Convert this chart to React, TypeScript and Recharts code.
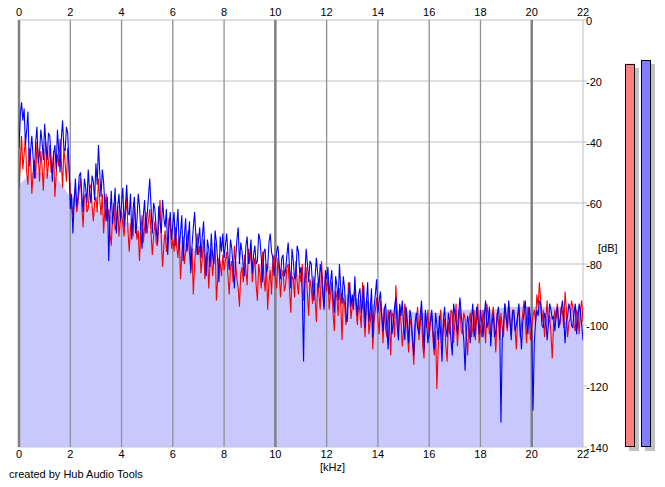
import React from 'react';
import {
  ComposedChart,
  Line,
  Area,
  XAxis,
  YAxis,
  CartesianGrid,
  ReferenceLine,
  BarChart,
  Bar,
  Cell,
} from 'recharts';

// Frequency bins (kHz)
const FREQ_KHZ = [
  0, 0.05, 0.1, 0.15, 0.2, 0.25, 0.3, 0.35, 0.4, 0.45, 0.5, 0.55, 0.6, 0.65, 0.7, 0.75, 0.8, 0.85, 0.9, 0.95,
  1, 1.05, 1.1, 1.15, 1.2, 1.25, 1.3, 1.35, 1.4, 1.45, 1.5, 1.55, 1.6, 1.65, 1.7, 1.75, 1.8, 1.85, 1.9, 1.95,
  2, 2.05, 2.1, 2.15, 2.2, 2.25, 2.3, 2.35, 2.4, 2.45, 2.5, 2.55, 2.6, 2.65, 2.7, 2.75, 2.8, 2.85, 2.9, 2.95,
  3, 3.05, 3.1, 3.15, 3.2, 3.25, 3.3, 3.35, 3.4, 3.45, 3.5, 3.55, 3.6, 3.65, 3.7, 3.75, 3.8, 3.85, 3.9, 3.95,
  4, 4.05, 4.1, 4.15, 4.2, 4.25, 4.3, 4.35, 4.4, 4.45, 4.5, 4.55, 4.6, 4.65, 4.7, 4.75, 4.8, 4.85, 4.9, 4.95,
  5, 5.05, 5.1, 5.15, 5.2, 5.25, 5.3, 5.35, 5.4, 5.45, 5.5, 5.55, 5.6, 5.65, 5.7, 5.75, 5.8, 5.85, 5.9, 5.95,
  6, 6.05, 6.1, 6.15, 6.2, 6.25, 6.3, 6.35, 6.4, 6.45, 6.5, 6.55, 6.6, 6.65, 6.7, 6.75, 6.8, 6.85, 6.9, 6.95,
  7, 7.05, 7.1, 7.15, 7.2, 7.25, 7.3, 7.35, 7.4, 7.45, 7.5, 7.55, 7.6, 7.65, 7.7, 7.75, 7.8, 7.85, 7.9, 7.95,
  8, 8.05, 8.1, 8.15, 8.2, 8.25, 8.3, 8.35, 8.4, 8.45, 8.5, 8.55, 8.6, 8.65, 8.7, 8.75, 8.8, 8.85, 8.9, 8.95,
  9, 9.05, 9.1, 9.15, 9.2, 9.25, 9.3, 9.35, 9.4, 9.45, 9.5, 9.55, 9.6, 9.65, 9.7, 9.75, 9.8, 9.85, 9.9, 9.95,
  10, 10.05, 10.1, 10.15, 10.2, 10.25, 10.3, 10.35, 10.4, 10.45, 10.5, 10.55, 10.6, 10.65, 10.7, 10.75, 10.8, 10.85, 10.9, 10.95,
  11, 11.05, 11.1, 11.15, 11.2, 11.25, 11.3, 11.35, 11.4, 11.45, 11.5, 11.55, 11.6, 11.65, 11.7, 11.75, 11.8, 11.85, 11.9, 11.95,
  12, 12.05, 12.1, 12.15, 12.2, 12.25, 12.3, 12.35, 12.4, 12.45, 12.5, 12.55, 12.6, 12.65, 12.7, 12.75, 12.8, 12.85, 12.9, 12.95,
  13, 13.05, 13.1, 13.15, 13.2, 13.25, 13.3, 13.35, 13.4, 13.45, 13.5, 13.55, 13.6, 13.65, 13.7, 13.75, 13.8, 13.85, 13.9, 13.95,
  14, 14.05, 14.1, 14.15, 14.2, 14.25, 14.3, 14.35, 14.4, 14.45, 14.5, 14.55, 14.6, 14.65, 14.7, 14.75, 14.8, 14.85, 14.9, 14.95,
  15, 15.05, 15.1, 15.15, 15.2, 15.25, 15.3, 15.35, 15.4, 15.45, 15.5, 15.55, 15.6, 15.65, 15.7, 15.75, 15.8, 15.85, 15.9, 15.95,
  16, 16.05, 16.1, 16.15, 16.2, 16.25, 16.3, 16.35, 16.4, 16.45, 16.5, 16.55, 16.6, 16.65, 16.7, 16.75, 16.8, 16.85, 16.9, 16.95,
  17, 17.05, 17.1, 17.15, 17.2, 17.25, 17.3, 17.35, 17.4, 17.45, 17.5, 17.55, 17.6, 17.65, 17.7, 17.75, 17.8, 17.85, 17.9, 17.95,
  18, 18.05, 18.1, 18.15, 18.2, 18.25, 18.3, 18.35, 18.4, 18.45, 18.5, 18.55, 18.6, 18.65, 18.7, 18.75, 18.8, 18.85, 18.9, 18.95,
  19, 19.05, 19.1, 19.15, 19.2, 19.25, 19.3, 19.35, 19.4, 19.45, 19.5, 19.55, 19.6, 19.65, 19.7, 19.75, 19.8, 19.85, 19.9, 19.95,
  20, 20.05, 20.1, 20.15, 20.2, 20.25, 20.3, 20.35, 20.4, 20.45, 20.5, 20.55, 20.6, 20.65, 20.7, 20.75, 20.8, 20.85, 20.9, 20.95,
  21, 21.05, 21.1, 21.15, 21.2, 21.25, 21.3, 21.35, 21.4, 21.45, 21.5, 21.55, 21.6, 21.65, 21.7, 21.75, 21.8, 21.85, 21.9, 21.95,
  22,
];

// Left channel (red) level in dB
const LEFT_DB = [
  -55, -47, -38, -49, -44, -39, -50, -54, -42, -45, -57, -50, -46, -52, -40, -44, -53, -43, -48, -56,
  -45, -40, -52, -47, -41, -50, -49, -43, -58, -51, -44, -48, -39, -46, -55, -42, -47, -53, -42, -48,
  -57, -61, -64, -58, -55, -63, -60, -56, -52, -61, -68, -58, -57, -63, -62, -55, -54, -61, -66, -60,
  -58, -63, -52, -59, -64, -57, -70, -62, -57, -66, -62, -70, -74, -64, -60, -69, -67, -61, -71, -66,
  -63, -67, -71, -64, -58, -69, -76, -68, -65, -71, -60, -66, -72, -69, -79, -70, -64, -73, -68, -63,
  -70, -66, -62, -70, -77, -71, -66, -73, -74, -67, -59, -72, -81, -74, -69, -76, -73, -65, -67, -75,
  -72, -76, -68, -74, -78, -71, -85, -77, -71, -80, -76, -73, -69, -77, -82, -75, -90, -80, -74, -70,
  -77, -74, -83, -78, -72, -85, -80, -76, -88, -80, -75, -84, -79, -73, -92, -85, -78, -80, -84, -77,
  -82, -79, -76, -84, -90, -81, -79, -86, -74, -80, -85, -88, -94, -83, -81, -86, -77, -82, -87, -75,
  -80, -75, -86, -81, -78, -87, -92, -80, -83, -88, -76, -84, -89, -80, -95, -86, -82, -90, -79, -77,
  -84, -88, -78, -83, -91, -84, -82, -89, -87, -81, -80, -88, -96, -84, -85, -91, -79, -86, -90, -82,
  -86, -80, -92, -87, -81, -90, -97, -85, -88, -93, -84, -91, -99, -86, -90, -95, -79, -87, -94, -84,
  -89, -84, -95, -90, -86, -96, -102, -89, -91, -97, -88, -93, -105, -91, -93, -100, -97, -86, -90, -98,
  -94, -91, -88, -95, -100, -92, -96, -101, -86, -97, -104, -93, -92, -103, -99, -94, -108, -99, -95, -91,
  -98, -103, -92, -97, -106, -94, -101, -104, -95, -100, -110, -96, -97, -104, -87, -95, -103, -94, -99, -107,
  -102, -93, -96, -103, -109, -98, -100, -106, -113, -101, -98, -94, -105, -100, -95, -107, -111, -97, -101, -95,
  -104, -99, -97, -105, -110, -102, -121, -108, -100, -95, -106, -101, -98, -107, -112, -99, -103, -95, -96, -106,
  -99, -93, -107, -100, -94, -102, -103, -96, -98, -104, -110, -99, -96, -104, -101, -95, -105, -98, -93, -106,
  -100, -104, -95, -99, -106, -93, -97, -103, -102, -97, -94, -101, -109, -96, -99, -105, -96, -101, -104, -93,
  -98, -102, -93, -99, -103, -95, -96, -101, -108, -97, -95, -104, -100, -96, -92, -99, -106, -94, -97, -105,
  -101, -97, -95, -99, -90, -94, -86, -92, -99, -95, -104, -98, -92, -100, -97, -103, -111, -100, -95, -98,
  -93, -98, -100, -94, -96, -101, -89, -95, -104, -99, -98, -92, -94, -100, -102, -95, -97, -103, -95, -92,
  -99,
];

// Right channel (blue) level in dB
const RIGHT_DB = [
  -42, -31, -27, -33, -29, -41, -36, -30, -48, -43, -38, -45, -52, -40, -35, -47, -44, -36, -40, -46,
  -34, -41, -46, -37, -38, -45, -53, -44, -41, -49, -36, -43, -50, -39, -33, -42, -43, -35, -37, -48,
  -62, -57, -70, -60, -52, -61, -58, -51, -50, -57, -63, -52, -55, -60, -49, -56, -60, -51, -53, -59,
  -47, -54, -41, -50, -58, -49, -53, -61, -66, -58, -79, -64, -56, -67, -62, -55, -70, -61, -57, -66,
  -60, -55, -68, -61, -54, -63, -64, -57, -72, -62, -58, -70, -66, -57, -61, -69, -75, -64, -59, -70,
  -64, -58, -52, -61, -70, -60, -62, -68, -73, -61, -66, -70, -59, -65, -68, -62, -77, -68, -63, -72,
  -67, -63, -74, -68, -62, -75, -70, -64, -79, -71, -65, -76, -72, -66, -83, -74, -68, -63, -71, -77,
  -72, -68, -78, -71, -66, -76, -84, -72, -75, -81, -70, -77, -80, -69, -73, -79, -86, -71, -76, -70,
  -78, -74, -70, -77, -82, -72, -75, -81, -88, -79, -72, -68, -80, -73, -76, -81, -84, -74, -71, -80,
  -77, -72, -83, -77, -74, -80, -79, -70, -72, -78, -86, -76, -75, -83, -81, -73, -70, -76, -78, -84,
  -80, -76, -74, -80, -85, -78, -77, -84, -82, -77, -73, -81, -88, -75, -79, -85, -84, -74, -76, -83,
  -81, -90, -112, -84, -75, -80, -86, -79, -80, -87, -92, -84, -78, -83, -88, -80, -83, -90, -95, -82,
  -85, -81, -90, -86, -82, -91, -96, -84, -87, -92, -80, -88, -93, -84, -88, -96, -99, -91, -86, -94,
  -90, -95, -84, -92, -97, -90, -88, -96, -93, -87, -101, -93, -86, -99, -95, -88, -104, -94, -90, -85,
  -96, -92, -89, -97, -102, -95, -93, -101, -108, -96, -95, -103, -99, -94, -91, -100, -105, -93, -97, -92,
  -100, -105, -94, -99, -106, -95, -98, -104, -110, -99, -96, -101, -103, -97, -92, -100, -108, -95, -99, -106,
  -102, -98, -95, -102, -108, -96, -100, -105, -97, -103, -112, -99, -94, -101, -104, -96, -99, -105, -110, -93,
  -96, -99, -103, -96, -91, -97, -100, -105, -115, -102, -97, -100, -106, -98, -93, -104, -101, -94, -98, -103,
  -95, -99, -104, -97, -92, -101, -99, -94, -107, -100, -96, -104, -102, -97, -94, -100, -132, -105, -100, -93,
  -97, -101, -92, -98, -105, -96, -95, -102, -100, -97, -93, -101, -108, -99, -96, -92, -99, -103, -94, -98,
  -103, -128, -106, -99, -95, -97, -92, -93, -100, -101, -96, -98, -105, -100, -93, -95, -98, -97, -102, -97,
  -94, -101, -99, -95, -92, -98, -106, -99, -97, -93, -95, -100, -101, -96, -93, -103, -98, -93, -96, -100,
  -105,
];

// Shaded (average) spectrum
const FILL_KHZ = [
  0, 0.5, 1, 1.5, 2, 2.5, 3, 3.5, 4, 4.5, 5, 5.5, 6, 6.5, 7, 7.5, 8, 8.5, 9, 9.5, 10, 10.5,
  11, 11.5, 12, 12.5, 13, 13.5, 14, 14.5, 15, 15.5, 16, 16.5, 17, 17.5, 18, 18.5, 19, 19.5,
  20, 20.5, 21, 21.5, 22,
];
const FILL_DB = [
  -54, -50, -50, -52, -58, -60, -62, -64, -66, -67, -69, -70, -71, -73, -76, -78, -79, -79,
  -80, -80, -81, -82, -84, -86, -88, -89, -91, -92, -94, -95, -95, -96, -96, -96, -95, -95,
  -95, -95, -94, -94, -94, -94, -94, -94, -94,
];

const X_TICKS = [0, 2, 4, 6, 8, 10, 12, 14, 16, 18, 20, 22];
const MAJOR_X = [0, 10, 20];
const Y_TICKS = [0, -20, -40, -60, -80, -100, -120, -140];

const METER_CHANNELS = ['L', 'R'];
const METER_DB = [-14.4, -13.1];
const METER_COLORS = ['#ff8080', '#8080ff'];

const spectrum = FREQ_KHZ.map((f, i) => ({ f, left: LEFT_DB[i], right: RIGHT_DB[i] }));
const shade = FILL_KHZ.map((f, i) => ({ f, db: FILL_DB[i] }));
const meters = METER_CHANNELS.map((c, i) => ({ c, v: [-140, METER_DB[i]] }));

const FONT = 'Arial, "Liberation Sans", sans-serif';

const renderTopTick = (props: any) => (
  <text
    key={`t-${props.payload.value}`}
    x={props.x}
    y={props.y - 4}
    textAnchor="middle"
    fontSize={11}
    fontFamily={FONT}
    fill="#000"
  >
    {props.payload.value}
  </text>
);

const renderBottomTick = (props: any) => (
  <text
    key={`b-${props.payload.value}`}
    x={props.x}
    y={props.y + 11}
    textAnchor="middle"
    fontSize={11}
    fontFamily={FONT}
    fill="#000"
  >
    {props.payload.value}
  </text>
);

const renderRightTick = (props: any) => (
  <g key={`r-${props.payload.value}`}>
    <line x1={props.x} x2={props.x + 4} y1={props.y} y2={props.y} stroke="#c0c0c0" />
    <text x={props.x + 3} y={props.y + 5} textAnchor="start" fontSize={11} fontFamily={FONT} fill="#000">
      {props.payload.value}
    </text>
  </g>
);

const MeterShape = (props: any) => {
  const { x, y, width, height, fill } = props;
  const top = Math.min(y, y + height);
  const h = Math.abs(height);
  return (
    <g>
      <rect x={x + 4} y={top + 4} width={width} height={h} fill="#c0c0c0" />
      <rect x={x + 0.5} y={top + 0.5} width={width - 1} height={h - 1} fill={fill} stroke="#000" />
    </g>
  );
};

export default function App() {
  return (
    <div
      style={{
        position: 'absolute',
        left: 0,
        top: 0,
        width: 665,
        height: 487,
        background: '#fff',
        overflow: 'hidden',
      }}
    >
      <div style={{ position: 'absolute', left: 0, top: 0 }}>
        <ComposedChart
          width={665}
          height={487}
          data={spectrum}
          margin={{ top: 0, right: 42, bottom: 20, left: 19 }}
        >
          <CartesianGrid vertical={false} stroke="#c0c0c0" strokeWidth={1} />
          <XAxis
            dataKey="f"
            type="number"
            domain={[0, 22]}
            ticks={X_TICKS}
            interval={0}
            height={20}
            axisLine={false}
            tickLine={false}
            tickSize={0}
            tickMargin={0}
            tick={renderBottomTick}
            allowDataOverflow
          />
          <XAxis
            xAxisId="top"
            dataKey="f"
            orientation="top"
            type="number"
            domain={[0, 22]}
            ticks={X_TICKS}
            interval={0}
            height={20}
            axisLine={false}
            tickLine={false}
            tickSize={0}
            tickMargin={0}
            tick={renderTopTick}
            allowDataOverflow
          />
          <YAxis
            orientation="right"
            type="number"
            domain={[-140, 0]}
            ticks={Y_TICKS}
            interval={0}
            width={40}
            axisLine={false}
            tickLine={false}
            tickSize={0}
            tickMargin={0}
            tick={renderRightTick}
            allowDataOverflow
          />
          <Area
            data={shade}
            dataKey="db"
            type="linear"
            baseValue={-140}
            fill="#c8c8ff"
            fillOpacity={1}
            stroke="none"
            isAnimationActive={false}
            zIndex={100}
          />
          {X_TICKS.map((t) => {
            const major = MAJOR_X.includes(t);
            const edge = t === 22;
            return (
              <ReferenceLine
                key={t}
                x={t}
                stroke={edge ? '#c0c0c0' : major ? '#808080' : '#909090'}
                strokeWidth={edge ? 1 : major ? 2.5 : 1.3}
                zIndex={200}
              />
            );
          })}
          <Line
            dataKey="left"
            type="linear"
            stroke="#ff0000"
            strokeWidth={1.1}
            dot={false}
            isAnimationActive={false}
            zIndex={400}
          />
          <Line
            dataKey="right"
            type="linear"
            stroke="#0000ff"
            strokeWidth={1.1}
            dot={false}
            isAnimationActive={false}
            zIndex={401}
          />
        </ComposedChart>
      </div>
      <div style={{ position: 'absolute', left: 622, top: 0 }}>
        <BarChart
          width={40}
          height={487}
          data={meters}
          margin={{ top: 20, right: 8, bottom: 40, left: 0 }}
          barCategoryGap={0}
        >
          <XAxis dataKey="c" hide />
          <YAxis type="number" domain={[-140, 0]} hide />
          <Bar dataKey="v" barSize={10} shape={<MeterShape />} isAnimationActive={false}>
            {meters.map((m, i) => (
              <Cell key={m.c} fill={METER_COLORS[i]} />
            ))}
          </Bar>
        </BarChart>
      </div>
      <svg
        width={665}
        height={487}
        style={{ position: 'absolute', left: 0, top: 0, pointerEvents: 'none' }}
      >
        <text x={598} y={252} fontSize={11} fontFamily={FONT} fill="#000">
          [dB]
        </text>
        <text x={320} y={471} fontSize={11} fontFamily={FONT} fill="#000">
          [kHz]
        </text>
        <text x={9} y={478} fontSize={11} fontFamily={FONT} fill="#000">
          created by Hub Audio Tools
        </text>
      </svg>
    </div>
  );
}
